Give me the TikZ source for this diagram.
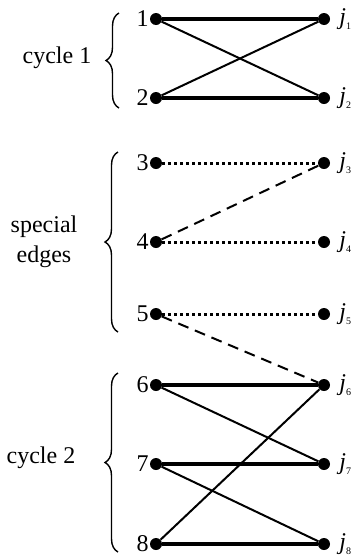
\documentclass[tikz,border=0pt]{standalone}
\usepackage{fontspec}
\setmainfont{Liberation Serif}
\usetikzlibrary{decorations.pathreplacing}
\tikzset{
  vtx/.style={circle,fill=black,inner sep=0pt,minimum size=12pt},
  match/.style={line width=3.6pt},
  cross/.style={line width=2pt},
  special/.style={line width=3pt,dash pattern=on 2.6pt off 3.4pt},
  swap/.style={line width=2pt,dash pattern=on 11pt off 7pt},
  grp/.style={decorate,decoration={brace,amplitude=13pt,mirror},line width=1.4pt}
}
\newcommand{\jsub}[1]{{\itshape j}\raisebox{-0.45ex}{\fontsize{10}{10}\selectfont #1}}
\begin{document}
\begin{tikzpicture}[x=1pt,y=-1pt,font=\fontsize{24}{28}\selectfont]
\useasboundingbox (0,0) rectangle (362,560);
% left and right vertices
\foreach \i/\y in {1/19,2/98,3/163,4/242,5/314,6/385,7/464,8/544}{
  \node[vtx,label={[inner sep=1pt]left:\i}] (L\i) at (156,\y) {};
  \node[vtx,label={[inner sep=0pt,label distance=9pt]right:\jsub{\i}}] (R\i) at (324,\y) {};
}
% cycle 1
\draw[match] (L1) -- (R1);
\draw[match] (L2) -- (R2);
\draw[cross] (L1) -- (R2);
\draw[cross] (L2) -- (R1);
% special edges
\draw[special] (L3) -- (R3);
\draw[special] (L4) -- (R4);
\draw[special] (L5) -- (R5);
\draw[swap] (L4) -- (R3);
\draw[swap] (L5) -- (R6);
% cycle 2
\draw[match] (L6) -- (R6);
\draw[match] (L7) -- (R7);
\draw[match] (L8) -- (R8);
\draw[cross] (L6) -- (R7);
\draw[cross] (L7) -- (R8);
\draw[cross] (L8) -- (R6);
% braces and group names
\draw[grp] (119,13) -- (119,108);
\draw[grp] (118,152) -- (118,332);
\draw[grp] (118,373) -- (118,552);
\node (c1) at (57,58) {cycle 1};
\node[align=center] (se) at (44,242) {special\\[2pt]edges};
\node (c2) at (41,458) {cycle 2};
\end{tikzpicture}
\end{document}
